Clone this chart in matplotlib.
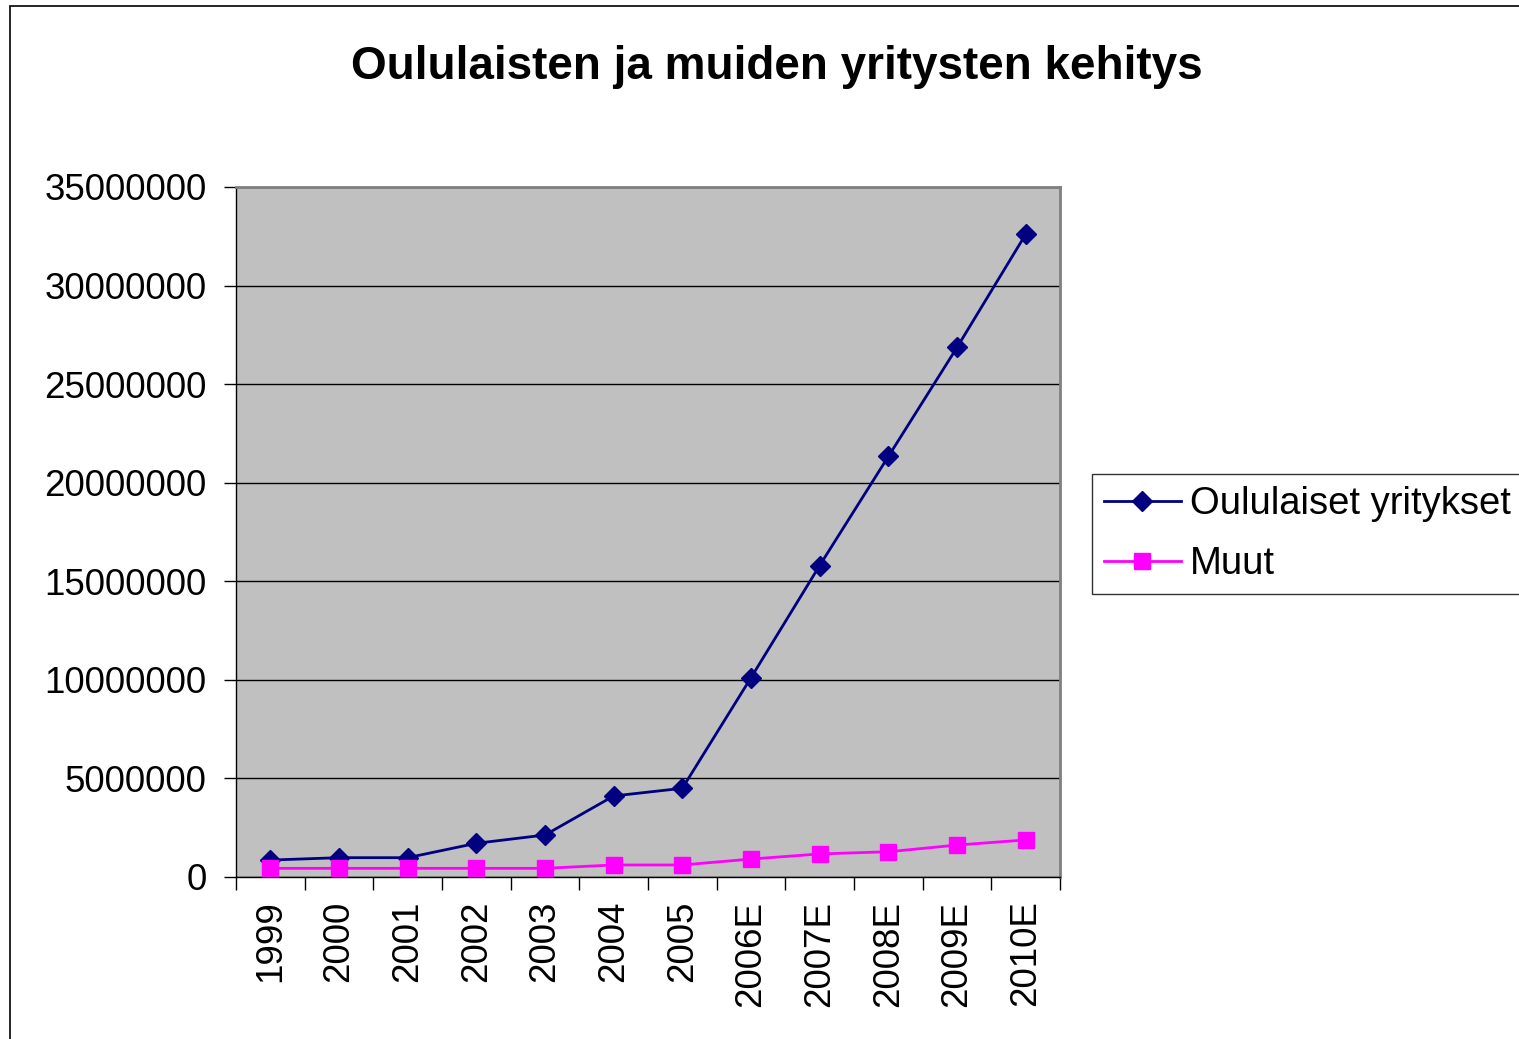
import matplotlib
matplotlib.use("Agg")
import matplotlib.pyplot as plt
from matplotlib.patches import Rectangle
from matplotlib.ticker import FixedLocator, NullFormatter

# data
vuodet = ["1999", "2000", "2001", "2002", "2003", "2004", "2005",
          "2006E", "2007E", "2008E", "2009E", "2010E"]
oululaiset = [860000, 980000, 980000, 1710000, 2130000, 4110000, 4500000,
              10110000, 15800000, 21330000, 26860000, 32600000]
muut = [440000, 440000, 440000, 440000, 440000, 610000, 610000,
        910000, 1170000, 1280000, 1620000, 1880000]
y_ticks = [0, 5000000, 10000000, 15000000, 20000000, 25000000, 30000000, 35000000]

plt.rcParams['font.family'] = ['Liberation Sans', 'DejaVu Sans']

fig = plt.figure(figsize=(15.19, 10.39), dpi=100)
ax = fig.add_axes([236 / 1519, 1 - 877 / 1039, 824 / 1519, 690 / 1039])

x = list(range(len(vuodet)))
ax.plot(x, oululaiset, color="#000080", lw=2, marker="D", ms=10,
        label="Oululaiset yritykset", zorder=3)
ax.plot(x, muut, color="#FF00FF", lw=2, marker="s", ms=12,
        label="Muut", zorder=3)

ax.set_facecolor("#C0C0C0")
ax.set_xlim(-0.5, len(vuodet) - 0.5)
ax.set_ylim(0, 35000000)
ax.set_yticks(y_ticks)
ax.set_yticklabels([str(v) for v in y_ticks], fontsize=26.5)
ax.yaxis.grid(True, color="black", lw=1)
ax.set_axisbelow(True)

# category ticks between the points, labels at the points
ax.set_xticks(x)
ax.set_xticklabels(vuodet, rotation=90, fontsize=26.5)
ax.tick_params(axis="x", which="major", length=0, pad=17)
ax.xaxis.set_minor_locator(FixedLocator([i - 0.5 for i in range(len(vuodet) + 1)]))
ax.xaxis.set_minor_formatter(NullFormatter())
ax.tick_params(axis="x", which="minor", length=9, width=1, color="black")
ax.tick_params(axis="y", length=9, width=1, pad=12)

for side in ["top", "right"]:
    ax.spines[side].set_color("#808080")
    ax.spines[side].set_linewidth(2)
for side in ["left", "bottom"]:
    ax.spines[side].set_color("black")
    ax.spines[side].set_linewidth(1)

fig.text(777 / 1519, 1 - 67 / 1039, "Oululaisten ja muiden yritysten kehitys",
         ha="center", va="center", fontsize=33, fontweight="bold")

leg = fig.legend(loc="upper left", bbox_to_anchor=(1092 / 1519, 1 - 474 / 1039),
                 fontsize=27.5, frameon=True, fancybox=False, handlelength=2.0,
                 borderpad=0.32, labelspacing=0.62, handletextpad=0.25,
                 borderaxespad=0)
leg.get_frame().set_edgecolor("black")
leg.get_frame().set_linewidth(1)

# outer chart frame
fig.patches.append(Rectangle((10 / 1519, -0.05), 1.1, 1 - 6 / 1039 + 0.05,
                             transform=fig.transFigure, fill=False,
                             edgecolor="black", lw=1.2))

fig.savefig("out.png", dpi=100)
